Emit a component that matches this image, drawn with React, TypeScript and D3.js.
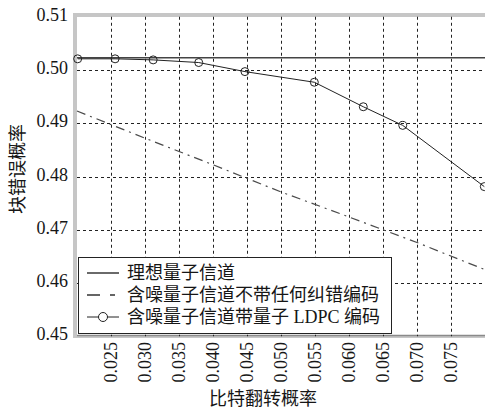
import React, { useRef, useEffect } from "react";
import * as d3 from "d3";

// values
const xTicks = [0.025, 0.03, 0.035, 0.04, 0.045, 0.05, 0.055, 0.06, 0.065, 0.07, 0.075];
const yTicks = [0.45, 0.46, 0.47, 0.48, 0.49, 0.5, 0.51];

const idealX = [0.02, 0.08];
const idealY = [0.5023, 0.5023];

const noisyX = [0.02, 0.03, 0.04, 0.05, 0.06, 0.07, 0.08];
const noisyY = [0.4923, 0.4872, 0.4822, 0.4771, 0.4724, 0.4676, 0.4625];

const ldpcX = [0.0201, 0.0256, 0.0312, 0.0379, 0.0447, 0.0549, 0.0621, 0.0679, 0.0799];
const ldpcY = [0.5021, 0.5021, 0.5019, 0.5014, 0.4997, 0.4977, 0.4931, 0.4896, 0.4781];

const legendLabels = ["理想量子信道", "含噪量子信道不带任何纠错编码", "含噪量子信道带量子 LDPC 编码"];

const App = () => {
  const svgRef = useRef<SVGSVGElement>(null);

  useEffect(() => {
    const svg = d3.select(svgRef.current);
    svg.selectAll("*").remove();
    const width = 485,
      height = 410,
      margin = { top: 17, right: 0, bottom: 74, left: 77 };
    const font = '"Liberation Serif", "Times New Roman", Times, "Noto Sans CJK SC", serif';
    const ink = "#161616";

    const x = d3.scaleLinear().domain([0.02, 0.08]).range([margin.left, width - margin.right]);
    const y = d3.scaleLinear().domain([0.45, 0.51]).range([height - margin.bottom + 0.25, margin.top - 0.25]);

    // frame
    svg.append("rect").attr("x", 73).attr("y", 13).attr("width", width - 73).attr("height", 325).attr("fill", "#c6c6c6");
    svg.append("rect").attr("x", 77).attr("y", 17).attr("width", width - 77).attr("height", 318).attr("fill", "#fff");
    svg.append("line").attr("x1", 77).attr("x2", width).attr("y1", 335.5).attr("y2", 335.5).attr("stroke", "#8a8a8a").attr("stroke-width", 1.5);

    // grid
    svg
      .selectAll(".vgrid")
      .data(xTicks)
      .enter()
      .append("line")
      .attr("x1", (d) => Math.round(x(d)) + 0.5)
      .attr("x2", (d) => Math.round(x(d)) + 0.5)
      .attr("y1", y(0.51))
      .attr("y2", y(0.45))
      .attr("stroke", "#222")
      .attr("stroke-dasharray", "3,3");
    svg
      .selectAll(".hgrid")
      .data(yTicks.slice(1, -1))
      .enter()
      .append("line")
      .attr("x1", x(0.02))
      .attr("x2", x(0.08))
      .attr("y1", (d) => Math.round(y(d)) + 0.5)
      .attr("y2", (d) => Math.round(y(d)) + 0.5)
      .attr("stroke", "#222")
      .attr("stroke-dasharray", "3,3");

    // tick labels
    svg
      .selectAll(".ylab")
      .data(yTicks)
      .enter()
      .append("text")
      .attr("x", 68)
      .attr("y", (d) => y(d) + 4)
      .attr("text-anchor", "end")
      .attr("font-family", font)
      .attr("font-size", 18)
      .attr("fill", ink)
      .text((d) => d3.format(".2f")(d));
    svg
      .selectAll(".xlab")
      .data(xTicks)
      .enter()
      .append("text")
      .attr("transform", (d) => `translate(${x(d)},342) rotate(-90)`)
      .attr("dy", "0.35em")
      .attr("text-anchor", "end")
      .attr("font-family", font)
      .attr("font-size", 18)
      .attr("fill", ink)
      .text((d) => d3.format(".3f")(d));

    // axis titles
    svg
      .append("text")
      .attr("transform", "translate(24,169) rotate(-90)")
      .attr("text-anchor", "middle")
      .attr("font-family", font)
      .attr("font-size", 18)
      .attr("fill", ink)
      .text("块错误概率");
    svg
      .append("text")
      .attr("x", 263)
      .attr("y", 405)
      .attr("text-anchor", "middle")
      .attr("font-family", font)
      .attr("font-size", 18)
      .attr("fill", ink)
      .text("比特翻转概率");

    const line = d3
      .line<[number, number]>()
      .x((d) => x(d[0]))
      .y((d) => y(d[1]));

    const plot = svg.append("g");
    plot
      .append("path")
      .datum(idealX.map((v, i) => [v, idealY[i]] as [number, number]))
      .attr("d", line)
      .attr("fill", "none")
      .attr("stroke", "#444")
      .attr("stroke-width", 1.6);
    plot
      .append("path")
      .datum(noisyX.map((v, i) => [v, noisyY[i]] as [number, number]))
      .attr("d", line)
      .attr("fill", "none")
      .attr("stroke", "#4a4a4a")
      .attr("stroke-width", 1.2)
      .attr("stroke-dasharray", "9,5,2,5");
    const ldpc = ldpcX.map((v, i) => [v, ldpcY[i]] as [number, number]);
    plot
      .append("path")
      .datum(ldpc)
      .attr("d", line)
      .attr("fill", "none")
      .attr("stroke", "#222")
      .attr("stroke-width", 1);
    plot
      .selectAll(".pt")
      .data(ldpc)
      .enter()
      .append("circle")
      .attr("cx", (d) => x(d[0]))
      .attr("cy", (d) => y(d[1]))
      .attr("r", 4)
      .attr("fill", "none")
      .attr("stroke", "#222")
      .attr("stroke-width", 1);

    // legend
    const lg = svg.append("g");
    lg.append("rect")
      .attr("x", 78.5)
      .attr("y", 257.5)
      .attr("width", 313)
      .attr("height", 76)
      .attr("fill", "#fff")
      .attr("stroke", "#222")
      .attr("stroke-width", 1);
    const rows = [273, 295, 317];
    const styles = [
      { stroke: "#444", dash: null, w: 1.6 },
      { stroke: "#333", dash: "13,10,5,10", w: 1.3 },
      { stroke: "#222", dash: null, w: 1 },
    ];
    legendLabels.forEach((label, i) => {
      lg.append("line")
        .attr("x1", 87)
        .attr("x2", 119)
        .attr("y1", rows[i])
        .attr("y2", rows[i])
        .attr("stroke", styles[i].stroke)
        .attr("stroke-width", styles[i].w)
        .attr("stroke-dasharray", styles[i].dash);
      if (i === 2) {
        lg.append("circle").attr("cx", 103).attr("cy", rows[i]).attr("r", 4.5).attr("fill", "#fff").attr("stroke", "#222");
      }
      lg.append("text")
        .attr("x", 127)
        .attr("y", rows[i] + 6)
        .attr("font-family", font)
        .attr("font-size", 18)
        .attr("fill", ink)
        .text(label);
    });
  }, []);

  return (
    <div style={{ position: "absolute", left: 0, top: 0, width: 485, height: 410, background: "#fff" }}>
      <svg ref={svgRef} width={485} height={410} style={{ display: "block" }}></svg>
    </div>
  );
};

export default App;
